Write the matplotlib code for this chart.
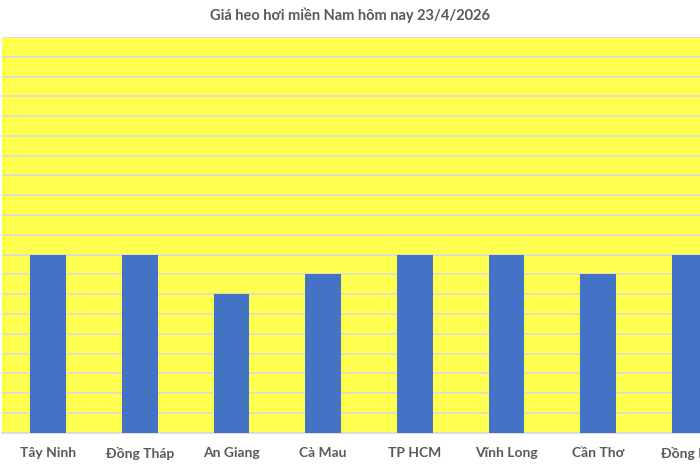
import matplotlib
matplotlib.use("Agg")
import matplotlib.pyplot as plt
import numpy as np

categories = ["Tây Ninh", "Đồng Tháp", "An Giang", "Cà Mau", "TP HCM", "Vĩnh Long", "Cần Thơ", "Đồng Nai"]
prices = [66000, 66000, 62000, 64000, 66000, 66000, 64000, 66000]
y_min, y_max, y_step = 48000, 88000, 2000
title = "Giá heo hơi miền Nam hôm nay 23/4/2026"

plt.rcParams['font.family'] = ['Lato', 'DejaVu Sans']

W, H = 700, 467
fig = plt.figure(figsize=(7, 4.67), dpi=100)
fig.patch.set_facecolor('white')
ax_left_px = 2
ax = fig.add_axes([ax_left_px / W, 1 - 432.7 / H, (W - ax_left_px) / W, (432.7 - 37) / H])
ax.set_facecolor('#FFFF50')

x = np.arange(len(categories))
ax.bar(x, prices, width=0.39, color='#4472C4', zorder=3)

spacing = 91.7
left = -(48 - ax_left_px) / spacing
ax.set_xlim(left, left + (W - ax_left_px) / spacing)
ax.set_ylim(y_min, y_max)
ax.set_yticks(np.arange(y_min, y_max + 1, y_step))
ax.yaxis.grid(True, color='#D9D9D9', linewidth=1.2, zorder=1)
ax.tick_params(axis='y', left=False, labelleft=False)
ax.set_xticks(x)
ax.set_xticklabels(categories, fontsize=10, fontweight='bold', color='#595959')
ax.tick_params(axis='x', length=0, pad=10)
for s in ['left', 'right', 'top']:
    ax.spines[s].set_visible(False)
ax.spines['bottom'].set_color('#D9D9D9')
ax.spines['bottom'].set_linewidth(1.2)

fig.text(0.5, 1 - 15 / H, title, ha='center', va='center', fontsize=10.5,
         fontweight='bold', color='#595959')

fig.savefig('out.png', dpi=100)
